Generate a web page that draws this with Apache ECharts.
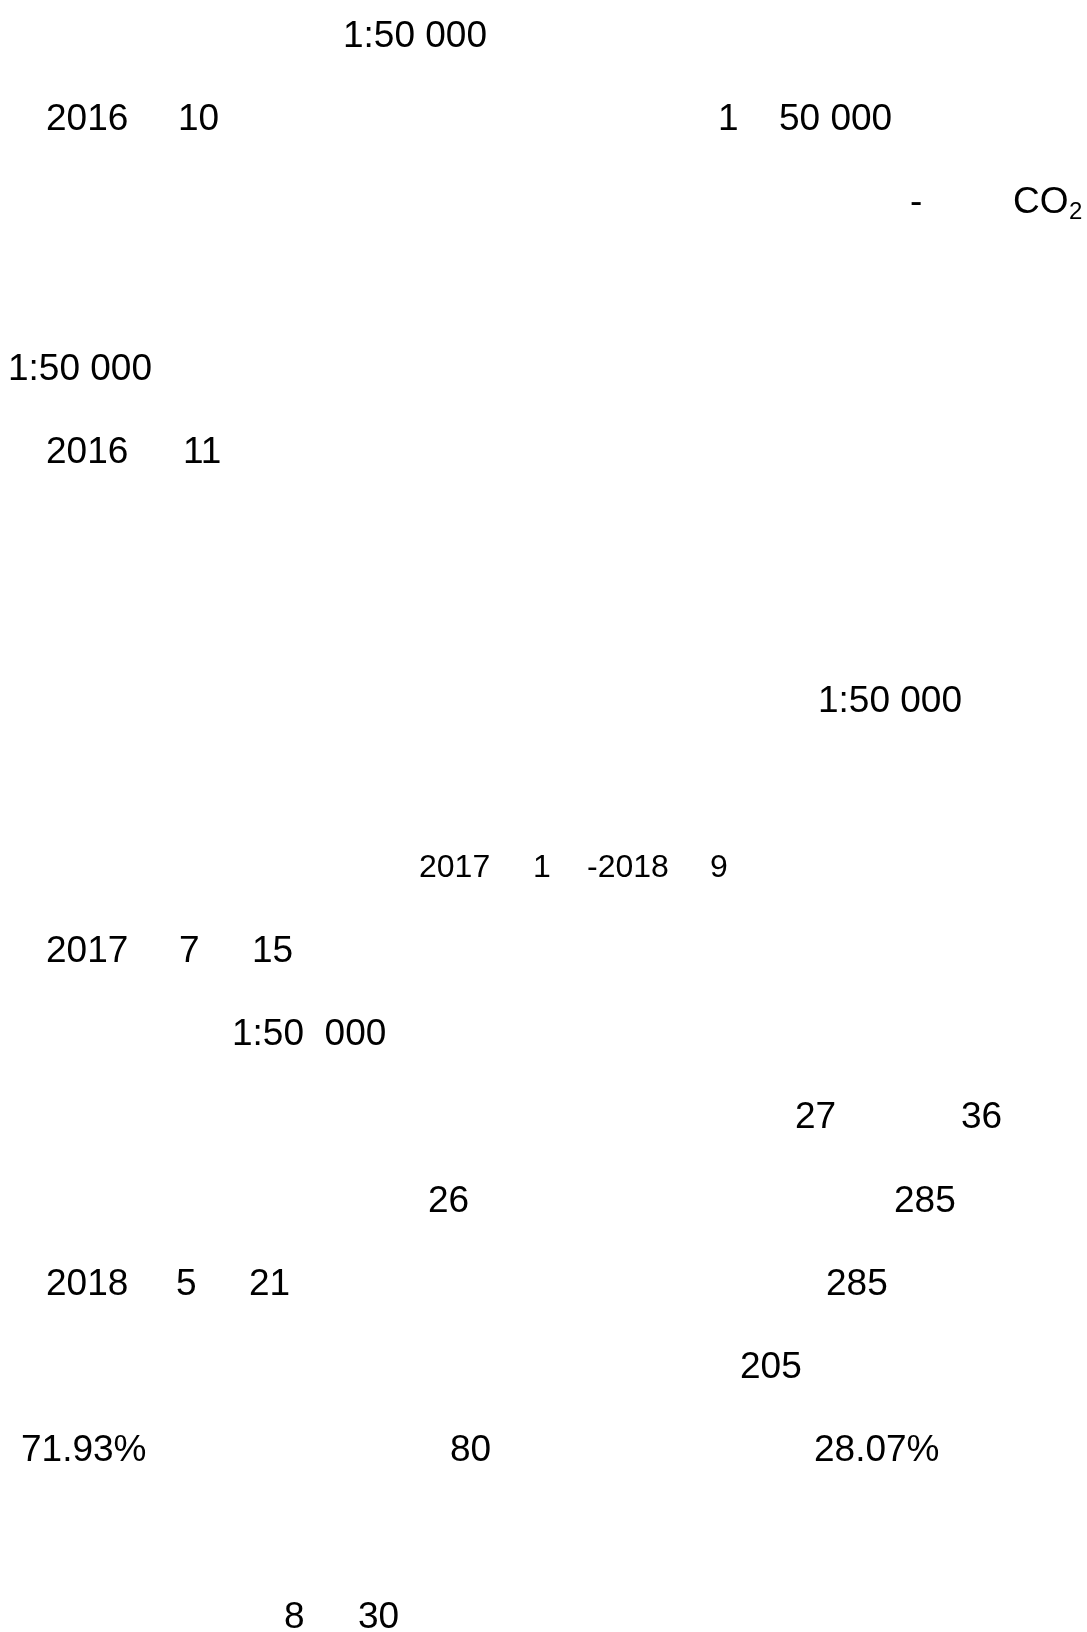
<!DOCTYPE html>
<html>
<head>
<meta charset="utf-8">
<script src="https://cdn.jsdelivr.net/npm/echarts@6/dist/echarts.min.js"></script>
<style>
html,body{margin:0;padding:0;background:#fff;}
#main{width:1087px;height:1632px;}
</style>
</head>
<body>
<div id="main"></div>
<script>
// Text fragments visible in the reference, in reading order
const tokens = [
  '1:50 000',
  '2016', '10', '1', '50 000',
  '-', 'CO', '2',
  '1:50 000',
  '2016', '11',
  '1:50 000',
  '2017', '1', '-2018', '9',
  '2017', '7', '15',
  '1:50  000',
  '27', '36',
  '26', '285',
  '2018', '5', '21', '285',
  '205',
  '71.93%', '80', '28.07%',
  '8', '30'
];

// Layout: [line index, x, font size, baseline shift]
const layout = [
  [0, 343, 37, 0],
  [1, 46, 37, 0], [1, 178, 37, 0], [1, 718, 37, 0], [1, 779, 37, 0],
  [2, 910, 37, 0], [2, 1013, 37, 0], [2, 1069, 24, 9],
  [4, 8, 37, 0],
  [5, 46, 37, 0], [5, 183, 37, 0],
  [8, 818, 37, 0],
  [10, 419, 32, 0], [10, 533, 32, 0], [10, 587, 32, 0], [10, 710, 32, 0],
  [11, 46, 37, 0], [11, 179, 37, 0], [11, 252, 37, 0],
  [12, 232, 37, 0],
  [13, 795, 37, 0], [13, 961, 37, 0],
  [14, 428, 37, 0], [14, 894, 37, 0],
  [15, 46, 37, 0], [15, 176, 37, 0], [15, 249, 37, 0], [15, 826, 37, 0],
  [16, 740, 37, 0],
  [17, 21, 37, 0], [17, 450, 37, 0], [17, 814, 37, 0],
  [19, 284, 37, 0], [19, 358, 37, 0]
];
const lineTop = 36.5;
const lineStep = 83.2;

const chart = echarts.init(document.getElementById('main'), null, {renderer: 'canvas'});
const elements = tokens.map((t, i) => ({
  type: 'text',
  x: layout[i][1],
  y: lineTop + lineStep * layout[i][0] + layout[i][3],
  style: {
    text: t,
    fill: '#000',
    font: layout[i][2] + 'px "Liberation Sans", Arial, sans-serif',
    textAlign: 'left',
    textVerticalAlign: 'middle',
    verticalAlign: 'middle'
  }
}));
chart.setOption({
  backgroundColor: '#ffffff',
  animation: false,
  graphic: { elements: elements }
});
</script>
</body>
</html>
